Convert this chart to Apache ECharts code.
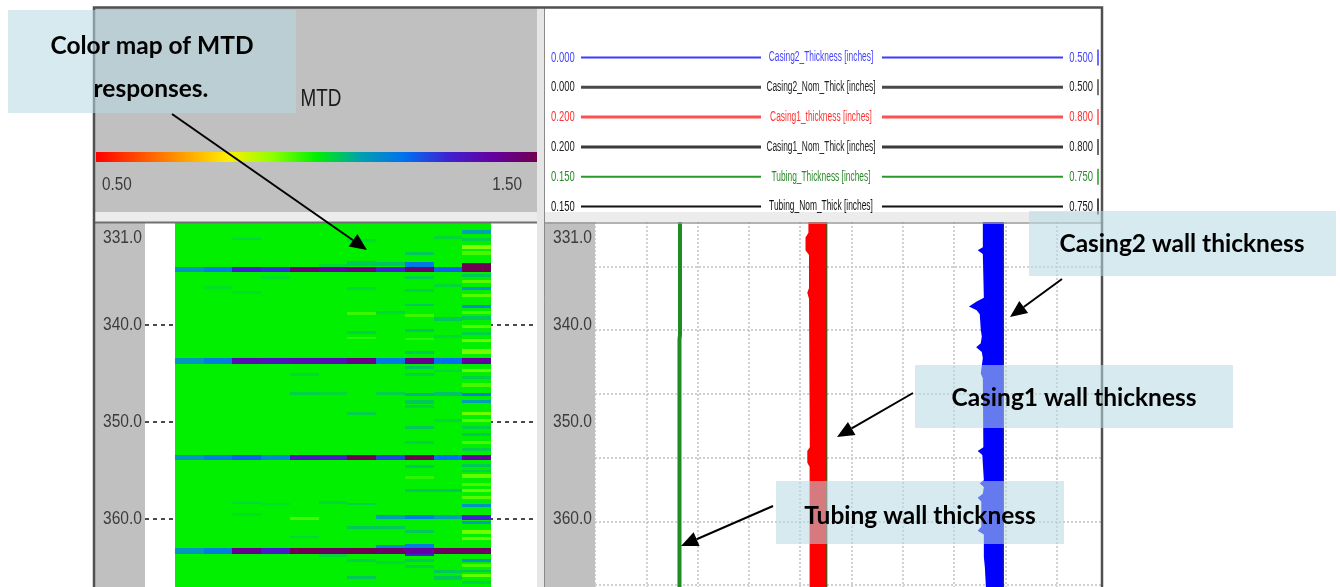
<!DOCTYPE html>
<html>
<head>
<meta charset="utf-8">
<script src="https://cdn.jsdelivr.net/npm/echarts@6/dist/echarts.min.js"></script>
<style>
  html, body { margin: 0; padding: 0; background: #ffffff; }
  #chart { width: 1340px; height: 587px; }
</style>
</head>
<body>
<div id="chart"></div>
<script>
// ---------------- depth axis (ft) ----------------
const DEPTH_TOP = 329.4;
const DEPTH_BOTTOM = 367.0;
const DEPTH_LABELS = [331, 340, 350, 360];
const DEPTH_LINES = [340, 350, 360];
const GRID_DEPTHS = [334.0, 340.5, 347.1, 353.7, 360.3, 366.8];

// ---------------- MTD colour map ----------------
const MTD_MIN = 0.5;
const MTD_MAX = 1.5;
const MTD_SCALE_LABELS = ['0.50', '1.50'];
const MTD_COLORS = ['#ff0000', '#ff5000', '#ffa000', '#ffee00', '#90ff00', '#00f000',
                    '#00a0b0', '#0070f0', '#4020d0', '#6400a0', '#700050'];
const MTD_SENSORS = 11;
const MTD_BASE = [1.0, 1.0, 1.0, 1.0, 1.0, 1.0, 1.0, 1.0, 1.0, 1.0, 1.0];
// collar responses: one row per collar, one value per sensor
const MTD_BAND_TOP = [334.0, 343.45, 353.4, 363.0];
const MTD_BAND_BOTTOM = [334.5, 344.05, 353.95, 363.6];
const MTD_BAND_VALUES = [
  [1.12, 1.17, 1.30, 1.28, 1.45, 1.40, 1.44, 1.30, 1.46, 1.22, 1.50],
  [1.12, 1.17, 1.36, 1.34, 1.36, 1.36, 1.43, 1.18, 1.42, 1.20, 1.40],
  [1.12, 1.17, 1.22, 1.15, 1.33, 1.32, 1.50, 1.26, 1.50, 1.20, 1.40],
  [1.12, 1.17, 1.42, 1.32, 1.50, 1.48, 1.50, 1.47, 1.40, 1.48, 1.48]
];
// thin responses: [sensor, top, bottom, value]
const MTD_STRIPES = [
  [10, 333.6, 334.0, 1.50], [8, 333.5, 334.0, 1.18], [8, 363.6, 363.8, 1.30],
  [7, 362.7, 363.0, 1.15], [8, 362.6, 363.0, 1.17],
  [10, 330.2, 330.6, 1.10], [10, 331.0, 331.4, 1.04], [10, 331.8, 332.2, 0.91],
  [10, 332.4, 332.8, 0.95], [10, 334.8, 335.1, 1.05], [10, 335.4, 335.7, 0.94],
  [10, 336.1, 336.4, 1.12], [10, 336.8, 337.1, 0.94], [10, 337.9, 338.3, 1.14],
  [10, 338.6, 338.9, 0.95], [10, 339.1, 339.5, 1.05], [10, 340.0, 340.3, 0.94],
  [10, 340.7, 341.0, 1.04], [10, 341.5, 341.8, 0.93], [10, 342.5, 343.0, 0.92],
  [10, 344.5, 344.9, 0.93], [10, 345.3, 345.6, 1.04], [10, 346.0, 346.4, 0.95],
  [10, 347.0, 347.3, 1.16], [10, 347.7, 348.0, 1.10], [10, 349.0, 349.3, 0.92],
  [10, 349.7, 350.0, 0.94], [10, 350.4, 350.7, 1.04], [10, 351.1, 351.4, 1.05],
  [10, 352.0, 352.3, 0.95], [10, 352.7, 353.0, 1.04], [10, 354.3, 354.6, 1.05],
  [10, 354.9, 355.2, 1.04], [10, 355.4, 355.8, 0.93], [10, 356.3, 356.6, 0.95],
  [10, 356.9, 357.2, 0.93], [10, 357.6, 357.9, 0.94], [10, 358.5, 358.8, 1.13],
  [10, 359.6, 360.1, 1.30], [10, 360.2, 360.5, 1.10], [10, 361.1, 361.5, 0.92],
  [10, 361.9, 362.2, 0.93], [10, 364.1, 364.4, 1.12], [10, 364.6, 364.9, 0.95],
  [10, 365.2, 365.5, 1.05], [10, 365.7, 366.0, 0.93], [10, 366.4, 366.7, 1.04],
  [9, 330.8, 331.1, 1.03], [9, 335.8, 336.1, 1.03], [9, 339.2, 339.6, 1.05],
  [9, 341.0, 341.3, 1.03], [9, 344.6, 344.9, 1.03], [9, 346.9, 347.3, 1.06],
  [9, 349.7, 350.0, 1.03], [9, 356.9, 357.2, 1.05], [9, 359.6, 360.0, 1.10],
  [9, 365.2, 365.6, 1.05], [9, 365.9, 366.3, 1.05],
  [8, 332.5, 332.8, 1.05], [8, 335.0, 335.3, 1.04], [8, 336.3, 336.6, 1.04],
  [8, 337.8, 338.1, 1.05], [8, 338.9, 339.2, 0.96], [8, 340.4, 340.7, 1.05],
  [8, 341.3, 341.6, 0.97], [8, 342.7, 343.0, 1.05], [8, 344.2, 344.5, 1.05],
  [8, 345.0, 345.3, 1.04], [8, 347.0, 347.3, 1.08], [8, 347.7, 348.1, 1.05],
  [8, 348.3, 348.6, 1.04], [8, 350.4, 350.7, 1.05], [8, 352.0, 352.3, 1.04],
  [8, 354.4, 354.7, 1.05], [8, 355.6, 355.9, 0.97], [8, 356.9, 357.2, 1.05],
  [8, 359.6, 360.0, 1.17], [8, 361.1, 361.4, 1.05], [8, 364.1, 364.4, 1.05],
  [8, 364.7, 365.0, 1.04],
  [7, 333.5, 333.9, 1.06], [7, 338.6, 338.9, 1.03], [7, 346.9, 347.2, 1.04],
  [7, 359.6, 360.0, 1.10], [7, 360.7, 361.0, 1.05], [7, 364.3, 364.6, 1.03],
  [6, 331.2, 331.5, 1.03], [6, 333.4, 333.9, 1.05], [6, 336.1, 336.4, 1.03],
  [6, 338.7, 339.0, 0.96], [6, 340.6, 340.9, 1.04], [6, 341.2, 341.5, 0.97],
  [6, 349.0, 349.3, 1.04], [6, 358.3, 358.6, 1.04], [6, 360.7, 361.0, 1.05],
  [6, 364.1, 364.4, 1.04], [6, 365.9, 366.2, 1.05],
  [5, 333.7, 334.0, 1.03], [5, 346.9, 347.2, 1.03], [5, 358.1, 358.4, 1.03],
  [5, 363.6, 363.9, 1.03],
  [4, 345.0, 345.3, 1.03], [4, 346.9, 347.2, 1.04], [4, 359.8, 360.1, 0.95],
  [4, 361.7, 362.0, 1.03],
  [3, 335.0, 335.3, 1.02], [3, 358.3, 358.6, 1.02],
  [2, 331.0, 331.3, 1.03], [2, 336.5, 336.8, 1.02], [2, 358.2, 358.5, 1.03],
  [2, 359.4, 359.7, 1.02],
  [1, 336.0, 336.3, 1.02]
];

// ---------------- wall thickness curves (inches) ----------------
const LEGEND_NAMES = ['Casing2_Thickness [inches]', 'Casing2_Nom_Thick [inches]',
                      'Casing1_thickness [inches]', 'Casing1_Nom_Thick [inches]',
                      'Tubing_Thickness [inches]', 'Tubing_Nom_Thick [inches]'];
const LEGEND_MIN = ['0.000', '0.000', '0.200', '0.200', '0.150', '0.150'];
const LEGEND_MAX = ['0.500', '0.500', '0.800', '0.800', '0.750', '0.750'];

const CASING2_DEPTH = [329.4, 332.0, 332.3, 332.7, 337.2, 337.6, 338.1, 338.5, 338.9, 340.5,
                       341.2, 341.9, 342.3, 342.8, 343.4, 345.0, 345.5, 352.6, 353.0, 353.4,
                       356.0, 356.3, 356.7, 357.4, 357.8, 358.2, 360.8, 361.2, 361.6, 363.9,
                       365.0, 367.0];
const CASING2_THK = [0.378, 0.378, 0.373, 0.378, 0.379, 0.372, 0.3645, 0.372, 0.375, 0.376,
                     0.377, 0.376, 0.3715, 0.377, 0.378, 0.376, 0.378, 0.3785, 0.373, 0.3775,
                     0.379, 0.375, 0.379, 0.378, 0.373, 0.3765, 0.3765, 0.373, 0.379, 0.379,
                     0.380, 0.381];
const CASING2_NOM = 0.398;

const CASING1_DEPTH = [329.4, 330.5, 331.0, 332.3, 332.8, 336.2, 336.7, 337.3, 352.6, 353.0,
                       354.2, 354.6, 367.0];
const CASING1_THK = [0.4496, 0.4496, 0.4462, 0.4462, 0.4503, 0.4503, 0.4483, 0.4503, 0.4512,
                     0.4483, 0.4483, 0.4510, 0.4510];
const CASING1_NOM = 0.471;

const TUBING_DEPTH = [329.4, 341.0, 341.5, 367.0];
const TUBING_THK = [0.2494, 0.2494, 0.2488, 0.2488];
const TUBING_NOM = 0.250;

// ---------------- styling ----------------
const LEGEND_LINE = ['#3c3cff', '#4a4a4a', '#ff5050', '#3a3a3a', '#2a9a2a', '#111111'];
const LEGEND_LINE_W = [2, 3, 3, 3, 2, 2];
const LEGEND_TEXT = ['#4444ff', '#222222', '#ff3030', '#222222', '#2a8a2a', '#111111'];
const NARROW = 'Liberation Sans, Arial, sans-serif';
const NOTE_FONT = 'bold 24.5px Lato, "Open Sans", sans-serif';

const chart = echarts.init(document.getElementById('chart'), null, { renderer: 'canvas' });

// heat-map cells: base level per sensor, then collar rows, then thin responses on top
const mtdCells = [];
MTD_BASE.forEach((v, c) => mtdCells.push([c, DEPTH_TOP, DEPTH_BOTTOM, v]));
MTD_BAND_VALUES.forEach((row, b) => row.forEach((v, c) =>
  mtdCells.push([c, MTD_BAND_TOP[b], MTD_BAND_BOTTOM[b], v])));
MTD_STRIPES.forEach(s => mtdCells.push(s.slice()));

function fillBetween(depths, thk, nom, color) {
  return function (params, api) {
    const pts = depths.map((d, i) => api.coord([thk[i], d]));
    for (let i = depths.length - 1; i >= 0; i--) pts.push(api.coord([nom, depths[i]]));
    return { type: 'polygon', shape: { points: pts }, style: { fill: color } };
  };
}
function hLines(color, width, dash) {
  return function (params, api) {
    const cs = params.coordSys;
    const y = Math.round(api.coord([api.value(0), api.value(1)])[1]);
    return { type: 'line', shape: { x1: cs.x, y1: y, x2: cs.x + cs.width, y2: y },
             style: { stroke: color, lineWidth: width, lineDash: dash } };
  };
}
const range = i => [parseFloat(LEGEND_MIN[i]), parseFloat(LEGEND_MAX[i])];

const option = {
  animation: false,
  backgroundColor: '#ffffff',
  grid: [
    { left: 175, top: 222, width: 316, height: 365 },
    { left: 145, top: 222, width: 392, height: 365 },
    { left: 595, top: 222, width: 513, height: 365 }
  ],
  xAxis: [
    { gridIndex: 0, type: 'value', min: 0, max: MTD_SENSORS, show: false },
    { gridIndex: 1, type: 'value', min: 0, max: 1, show: false },
    { gridIndex: 2, type: 'value', min: 0, max: 10, interval: 1,
      axisLine: { show: false }, axisTick: { show: false }, axisLabel: { show: false },
      splitLine: { show: true, lineStyle: { color: '#c2c2c2', width: 1.5, type: [2, 2] } } },
    { gridIndex: 2, type: 'value', min: range(0)[0], max: range(0)[1], show: false },
    { gridIndex: 2, type: 'value', min: range(2)[0], max: range(2)[1], show: false },
    { gridIndex: 2, type: 'value', min: range(4)[0], max: range(4)[1], show: false }
  ],
  yAxis: [0, 1, 2].map(g => ({ gridIndex: g, type: 'value', min: DEPTH_TOP, max: DEPTH_BOTTOM,
                               inverse: true, show: false })),
  visualMap: {
    type: 'continuous', show: false, min: MTD_MIN, max: MTD_MAX, dimension: 3, seriesIndex: 0,
    inRange: { color: MTD_COLORS }
  },
  series: [
    { type: 'custom', name: 'MTD', xAxisIndex: 0, yAxisIndex: 0, z: 3, silent: true,
      data: mtdCells,
      renderItem: function (params, api) {
        const c = api.value(0);
        const p0 = api.coord([c, api.value(1)]);
        const p1 = api.coord([c + 1, api.value(2)]);
        const x0 = Math.round(p0[0]), x1 = Math.round(p1[0]);
        const y0 = Math.round(p0[1]), y1 = Math.round(p1[1]);
        return { type: 'rect', shape: { x: x0, y: y0, width: x1 - x0, height: Math.max(1, y1 - y0) },
                 style: { fill: api.visual('color') } };
      } },
    { type: 'custom', name: 'depth lines', xAxisIndex: 1, yAxisIndex: 1, z: 2, silent: true,
      data: DEPTH_LINES.map(d => [0, d]), renderItem: hLines('#4a4a4a', 2, [4, 4]) },
    { type: 'custom', name: 'grid depths', xAxisIndex: 2, yAxisIndex: 2, z: 1, silent: true,
      data: GRID_DEPTHS.map(d => [0, d]), renderItem: hLines('#c2c2c2', 1.5, [2, 2]) },
    { type: 'custom', name: LEGEND_NAMES[0], xAxisIndex: 3, yAxisIndex: 2, z: 3, silent: true,
      data: [[CASING2_NOM, DEPTH_TOP]],
      renderItem: fillBetween(CASING2_DEPTH, CASING2_THK, CASING2_NOM, '#0000ff') },
    { type: 'line', name: LEGEND_NAMES[1], xAxisIndex: 3, yAxisIndex: 2, z: 4, silent: true,
      symbol: 'none', data: [[CASING2_NOM, DEPTH_TOP], [CASING2_NOM, DEPTH_BOTTOM]],
      lineStyle: { color: '#2a2a50', width: 1.3 } },
    { type: 'custom', name: LEGEND_NAMES[2], xAxisIndex: 4, yAxisIndex: 2, z: 3, silent: true,
      data: [[CASING1_NOM, DEPTH_TOP]],
      renderItem: fillBetween(CASING1_DEPTH, CASING1_THK, CASING1_NOM, '#ff0000') },
    { type: 'line', name: LEGEND_NAMES[3], xAxisIndex: 4, yAxisIndex: 2, z: 4, silent: true,
      symbol: 'none', data: [[CASING1_NOM, DEPTH_TOP], [CASING1_NOM, DEPTH_BOTTOM]],
      lineStyle: { color: '#5a4a10', width: 1.3 } },
    { type: 'line', name: LEGEND_NAMES[5], xAxisIndex: 5, yAxisIndex: 2, z: 3, silent: true,
      symbol: 'none', data: [[TUBING_NOM, DEPTH_TOP], [TUBING_NOM, DEPTH_BOTTOM]],
      lineStyle: { color: '#1c3a1c', width: 1 } },
    { type: 'line', name: LEGEND_NAMES[4], xAxisIndex: 5, yAxisIndex: 2, z: 4, silent: true,
      symbol: 'none', data: TUBING_DEPTH.map((d, i) => [TUBING_THK[i], d]),
      lineStyle: { color: '#1e8c1e', width: 4 } }
  ]
};
chart.setOption(option);

// ---------------- frame, headers, labels and notes ----------------
const BG = -5, FRAME = 40, NOTE = 60;
const G = [];
function txt(x, y, text, font, fill, align, sx, z) {
  return { type: 'text', x: x, y: y, scaleX: sx || 1, z: z === undefined ? FRAME : z, silent: true,
           style: { text: text, font: font, fill: fill, align: align, verticalAlign: 'middle',
                    textAlign: align, textVerticalAlign: 'middle' } };
}
function seg(x1, y1, x2, y2, stroke, w, z, dash) {
  return { type: 'line', z: z, silent: true, shape: { x1, y1, x2, y2 },
           style: { stroke: stroke, lineWidth: w, lineDash: dash || null } };
}
function rect(x, y, w, h, fill, z) {
  return { type: 'rect', z: z, silent: true, shape: { x: x, y: y, width: w, height: h }, style: { fill: fill } };
}

// panels
G.push(rect(95, 8, 442, 204, '#c0c0c0', BG));
G.push(rect(95, 212, 1007, 10, '#ececec', BG));
G.push(rect(537, 8, 7, 579, '#e6e6e6', BG));
G.push(rect(95, 222, 50, 365, '#c0c0c0', BG));
G.push(rect(544, 222, 51, 365, '#c0c0c0', BG));
G.push(rect(1103, 0, 237, 587, '#ffffff', FRAME));
G.push(seg(95, 222.5, 537, 222.5, '#707070', 2, FRAME));
G.push(seg(544, 223, 1102, 223, '#9a9a9a', 1.5, FRAME));
G.push(seg(544.5, 8, 544.5, 587, '#8a8a8a', 1, FRAME));
G.push({ type: 'polyline', z: FRAME + 1, silent: true,
         shape: { points: [[94, 587], [94, 7.5], [1102, 7.5], [1102, 587]] },
         style: { stroke: '#505050', lineWidth: 2.5, fill: null } });

// MTD header with colour scale
G.push(txt(321, 100, 'MTD', '23px ' + NARROW, '#1a1a1a', 'center', 0.82));
G.push({ type: 'rect', z: FRAME, silent: true, shape: { x: 96, y: 152, width: 441, height: 10 },
         style: { fill: new echarts.graphic.LinearGradient(0, 0, 1, 0,
           MTD_COLORS.map((c, i) => ({ offset: i / (MTD_COLORS.length - 1), color: c }))) } });
G.push(txt(102, 185, MTD_SCALE_LABELS[0], '18px ' + NARROW, '#3a3a3a', 'left', 0.85));
G.push(txt(522, 185, MTD_SCALE_LABELS[1], '18px ' + NARROW, '#3a3a3a', 'right', 0.85));

// curve legend
LEGEND_NAMES.forEach((name, i) => {
  const y = 57.5 + i * 29.8;
  G.push(txt(551, y, LEGEND_MIN[i], '15px ' + NARROW, LEGEND_TEXT[i], 'left', 0.63));
  G.push(seg(581, y, 761, y, LEGEND_LINE[i], LEGEND_LINE_W[i], FRAME));
  G.push(txt(821, y, name, '14px ' + NARROW, LEGEND_TEXT[i], 'center', 0.6));
  G.push(seg(882, y, 1063, y, LEGEND_LINE[i], LEGEND_LINE_W[i], FRAME));
  G.push(txt(1093, y, LEGEND_MAX[i], '15px ' + NARROW, LEGEND_TEXT[i], 'right', 0.63));
  G.push(seg(1098, y - 8, 1098, y + 8, LEGEND_LINE[i], 1.5, FRAME));
});

// depth labels on both tracks
DEPTH_LABELS.forEach(d => {
  const y = chart.convertToPixel({ yAxisIndex: 1 }, d);
  G.push(txt(142, y, d.toFixed(1), '19px ' + NARROW, '#3c3c3c', 'right', 0.82));
  G.push(txt(592, y, d.toFixed(1), '19px ' + NARROW, '#3c3c3c', 'right', 0.82));
});

// callouts
const NOTE_FILL = 'rgba(181,217,228,0.56)';
function arrow(x1, y1, x2, y2) {
  const a = Math.atan2(y2 - y1, x2 - x1), L = 17, W = 7.5;
  const bx = x2 - L * Math.cos(a), by = y2 - L * Math.sin(a);
  const px = -Math.sin(a) * W, py = Math.cos(a) * W;
  G.push(seg(x1, y1, bx, by, '#000000', 2, NOTE));
  G.push({ type: 'polygon', z: NOTE, silent: true,
           shape: { points: [[x2, y2], [bx + px, by + py], [bx - px, by - py]] },
           style: { fill: '#000000' } });
}
G.push(rect(8, 10, 288, 103, NOTE_FILL, NOTE));
G.push(txt(152, 46, 'Color map of MTD', NOTE_FONT, '#000000', 'center', 1, NOTE));
G.push(txt(151, 89, 'responses.', NOTE_FONT, '#000000', 'center', 1, NOTE));
arrow(172, 114, 367, 250);

G.push(rect(1029, 211, 307, 65, NOTE_FILL, NOTE));
G.push(txt(1182, 244, 'Casing2 wall thickness', NOTE_FONT, '#000000', 'center', 1, NOTE));
arrow(1062, 279, 1010, 317);

G.push(rect(915, 365, 318, 63, NOTE_FILL, NOTE));
G.push(txt(1074, 398, 'Casing1 wall thickness', NOTE_FONT, '#000000', 'center', 1, NOTE));
arrow(913, 393, 837, 437);

G.push(rect(776, 481, 288, 63, NOTE_FILL, NOTE));
G.push(txt(920, 516, 'Tubing wall thickness', NOTE_FONT, '#000000', 'center', 1, NOTE));
arrow(773, 506, 681, 546);

chart.setOption({ graphic: { elements: G } });
</script>
</body>
</html>
